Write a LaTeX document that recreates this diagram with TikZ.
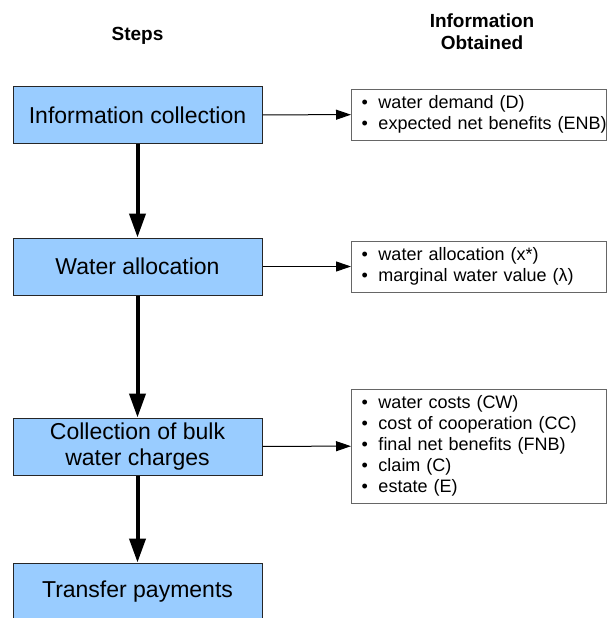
\documentclass[tikz,border=0pt]{standalone}
\usepackage{fontspec}
\setmainfont{Liberation Sans}
\usetikzlibrary{arrows.meta}

\definecolor{stepblue}{HTML}{99CCFF}
\definecolor{infogray}{HTML}{666666}

\newcommand{\itm}[1]{\mbox{\hspace*{9pt}\makebox[17pt][l]{\textbullet}#1}}

\tikzset{
  stepbox/.style={draw=black!85, line width=1pt, fill=stepblue, minimum width=249pt,
    minimum height=57pt, inner sep=0pt, align=center,
    font=\fontsize{23}{26}\selectfont},
  infobox/.style={draw=infogray, line width=1pt, anchor=west, inner xsep=1pt,
    inner ysep=0pt, text width=253pt, align=left,
    font=\fontsize{18}{21}\selectfont},
  header/.style={font=\bfseries\fontsize{19}{22}\selectfont, align=center},
  flow/.style={-{Triangle[length=24pt,width=16pt]}, line width=4pt},
  gives/.style={-{Triangle[length=15pt,width=10pt]}, line width=1pt}
}

\begin{document}
\begin{tikzpicture}[x=1pt, y=-1pt]
  \useasboundingbox (0,0) rectangle (607,618);

  % Titoli delle colonne
  \node[header] (steps) at (137.5,36) {Steps};
  \node[header] (obtained) at (482,32) {Information\\Obtained};

  % Passi
  \node[stepbox] (collect) at (137.5,115) {Information collection};
  \node[stepbox] (alloc) at (137.5,266.5) {Water allocation};
  \node[stepbox] (charges) at (137.5,446.5) {Collection of bulk\\water charges};
  \node[stepbox] (transfer) at (137.5,591.5) {Transfer payments};

  % Informazioni ottenute
  \node[infobox, minimum height=51pt] (info1) at (351,114.5)
    {\itm{water demand (D)}\\\itm{expected net benefits (ENB)}};
  \node[infobox, minimum height=51pt] (info2) at (351,266.5)
    {\itm{water allocation (x*)}\\\itm{marginal water value (λ)}};
  \node[infobox, minimum height=114pt] (info3) at (351,446)
    {\itm{water costs (CW)}\\\itm{cost of cooperation (CC)}\\\itm{final net benefits (FNB)}\\\itm{claim (C)}\\\itm{estate (E)}};

  % Frecce tra i passi
  \draw[flow] (collect) -- (alloc);
  \draw[flow] (alloc) -- (charges);
  \draw[flow] (charges) -- (transfer);

  % Frecce verso le informazioni
  \draw[gives] (collect) -- (info1);
  \draw[gives] (alloc) -- (info2);
  \draw[gives] (charges) -- (info3);
\end{tikzpicture}
\end{document}
